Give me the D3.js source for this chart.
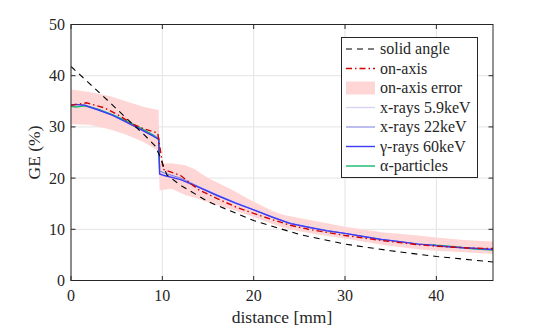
<!DOCTYPE html>
<html>
<head>
<meta charset="utf-8">
<script src="https://cdn.jsdelivr.net/npm/d3@7"></script>
<style>
  body { margin: 0; background: #fff; }
</style>
</head>
<body>
<svg id="chart" width="545" height="327" font-family="'Liberation Serif', 'Times New Roman', serif"></svg>
<script>
// tick values
var xTicks = [0, 10, 20, 30, 40];
var yTicks = [0, 10, 20, 30, 40, 50];

// solid angle (analytic curve)
var solidDist  = [0, 2, 4, 6, 8, 9.2, 9.7, 10.5, 12, 15, 20, 25, 30, 35, 40, 46.2];
var solidAngle = [41.8, 38.5, 35.2, 31.8, 28.5, 26.3, 24.4, 20.6, 18.6, 15.4, 11.7, 9.0, 7.1, 5.8, 4.7, 3.6];

// on-axis measurement + error band
var onAxisDist = [0, 1.7, 3.7, 5.4, 6.8, 8, 9.5, 10.1, 12, 14, 16, 18, 20, 22, 24, 26, 28, 30, 32, 34, 36, 38, 40, 42, 44, 46.2];
var onAxis     = [34.2, 34.7, 33.7, 32.1, 30.5, 29.6, 28.8, 21.7, 20.5, 17.7, 16.0, 14.4, 13.1, 11.9, 10.8, 10.0, 9.4, 8.8, 8.3, 7.8, 7.4, 7.0, 6.7, 6.5, 6.3, 6.25];

var errDist  = [0, 2, 4.3, 6, 8, 9.6, 9.7, 11, 12.5, 13.5, 15, 17.5, 20, 22, 23.3, 25, 27, 30, 34, 38, 40, 43, 46.2];
var errUpper = [37.3, 36.8, 36.0, 35.0, 33.9, 33.3, 22.8, 22.9, 22.5, 21.8, 20.0, 17.8, 15.4, 13.6, 12.8, 12.2, 11.5, 10.5, 9.4, 8.8, 8.4, 7.9, 7.6];
var errLower = [30.5, 30.4, 29.5, 28.5, 27.0, 25.3, 17.6, 17.9, 16.7, 16.2, 15.3, 13.9, 12.4, 11.1, 10.3, 9.6, 9.0, 8.2, 7.0, 6.1, 5.8, 5.5, 5.2];

// simulations
var simDist  = [0, 0.5, 1.5, 3, 4.5, 6, 7.5, 9, 9.6, 9.7, 10.2, 12, 14, 16, 18, 20, 22, 24, 26, 28, 30, 32, 34, 36, 38, 39.6, 40, 42, 44, 46.2];
var xray59   = [34.1, 34.3, 34.3, 33.5, 32.5, 31.3, 29.9, 28.5, 27.9, 21.2, 20.9, 20.0, 18.4, 16.8, 15.3, 13.9, 12.5, 11.3, 10.5, 9.8, 9.2, 8.6, 8.1, 7.6, 7.2, 6.9, 6.8, 6.5, 6.3, 6.1];
var xray22   = [34.2, 34.4, 34.3, 33.4, 32.4, 31.1, 29.7, 28.3, 27.8, 21.4, 21.0, 20.0, 18.3, 16.7, 15.2, 13.8, 12.4, 11.2, 10.4, 9.8, 9.2, 8.6, 8.0, 7.6, 7.1, 6.9, 6.8, 6.5, 6.3, 6.05];
var gamma60  = [34.3, 34.4, 34.2, 33.3, 32.3, 31.0, 29.6, 28.2, 27.6, 20.8, 20.5, 19.7, 18.2, 16.6, 15.1, 13.8, 12.4, 11.1, 10.4, 9.7, 9.2, 8.6, 8.0, 7.6, 7.1, 6.9, 6.8, 6.5, 6.3, 6.05];
var alphaP   = [34.0, 33.9, 34.1, 33.4, 32.4, 31.2, 29.9, 28.4, 27.5, 21.8, null, null, null, null, null, null, null, null, null, null, null, null, null, null, null, 7.0, 6.9, 6.6, 6.2, 5.95];

var legendLabels = ["solid angle", "on-axis", "on-axis error", "x-rays 5.9keV", "x-rays 22keV", "\u03b3-rays 60keV", "\u03b1-particles"];

var svg = d3.select("#chart");
var pL = 71, pR = 493, pT = 24.5, pB = 280.5;
var ink = "#262626";

var x = d3.scaleLinear().domain([0, 46.2]).range([pL, pR]);
var y = d3.scaleLinear().domain([0, 50]).range([pB, pT]);

svg.append("defs").append("clipPath").attr("id", "clip")
  .append("rect").attr("x", pL).attr("y", pT).attr("width", pR - pL).attr("height", pB - pT);

/* grid */
var grid = svg.append("g").attr("stroke", "#e3e3e3").attr("stroke-width", 1);
xTicks.forEach(function(t) {
  grid.append("line").attr("x1", x(t)).attr("x2", x(t)).attr("y1", pT).attr("y2", pB);
});
yTicks.forEach(function(t) {
  grid.append("line").attr("x1", pL).attr("x2", pR).attr("y1", y(t)).attr("y2", y(t));
});

var plot = svg.append("g").attr("clip-path", "url(#clip)");

/* error band */
var area = d3.area()
  .x(function(d, i) { return x(errDist[i]); })
  .y0(function(d, i) { return y(errLower[i]); })
  .y1(function(d, i) { return y(errUpper[i]); });
plot.append("path").datum(errUpper).attr("d", area).attr("fill", "#ffd6d6");

function lineOf(xs) {
  return d3.line()
    .defined(function(d) { return d != null; })
    .x(function(d, i) { return x(xs[i]); })
    .y(function(d) { return y(d); });
}

var series = [
  {vals: solidAngle, xs: solidDist, color: "#000", width: 1.1, dash: "6,5"},
  {vals: onAxis, xs: onAxisDist, color: "#d40000", width: 1.4, dash: "6,3,1.5,3"},
  null,
  {vals: xray59, xs: simDist, color: "#d2d2f7", width: 1.3},
  {vals: xray22, xs: simDist, color: "#7b7be0", width: 1},
  {vals: gamma60, xs: simDist, color: "#3c3cf5", width: 1.4},
  {vals: alphaP, xs: simDist, color: "#14b870", width: 1.4}
];

// simulations first, then measurement and solid angle on top
[3, 4, 6, 5, 1, 0].forEach(function(k) {
  var s = series[k];
  plot.append("path").datum(s.vals)
    .attr("d", lineOf(s.xs))
    .attr("fill", "none")
    .attr("stroke", s.color)
    .attr("stroke-width", s.width)
    .attr("stroke-dasharray", s.dash || null);
});

/* axes box + inward ticks */
var ax = svg.append("g").attr("stroke", ink).attr("stroke-width", 1);
ax.append("rect").attr("x", pL).attr("y", pT).attr("width", pR - pL).attr("height", pB - pT).attr("fill", "none");
var tl = 4.5;
xTicks.forEach(function(t) {
  ax.append("line").attr("x1", x(t)).attr("x2", x(t)).attr("y1", pB).attr("y2", pB - tl);
  ax.append("line").attr("x1", x(t)).attr("x2", x(t)).attr("y1", pT).attr("y2", pT + tl);
});
yTicks.forEach(function(t) {
  ax.append("line").attr("x1", pL).attr("x2", pL + tl).attr("y1", y(t)).attr("y2", y(t));
  ax.append("line").attr("x1", pR).attr("x2", pR - tl).attr("y1", y(t)).attr("y2", y(t));
});

svg.selectAll(".xt").data(xTicks).enter().append("text")
  .attr("x", function(d) { return x(d); }).attr("y", 301).attr("fill", ink)
  .attr("text-anchor", "middle").attr("font-size", 16).text(function(d) { return d; });
svg.selectAll(".yt").data(yTicks).enter().append("text")
  .attr("x", 65).attr("y", function(d) { return y(d) + 5.5; }).attr("fill", ink)
  .attr("text-anchor", "end").attr("font-size", 16).text(function(d) { return d; });

svg.append("text").attr("x", (pL + pR) / 2).attr("y", 323).attr("fill", ink)
  .attr("text-anchor", "middle").attr("font-size", 17.5).text("distance [mm]");
svg.append("text").attr("transform", "translate(40,152.5) rotate(-90)").attr("fill", ink)
  .attr("text-anchor", "middle").attr("font-size", 17.5).text("GE (%)");

/* legend */
var lg = svg.append("g");
lg.append("rect").attr("x", 341.5).attr("y", 37.5).attr("width", 136).attr("height", 140)
  .attr("fill", "#fff").attr("stroke", ink).attr("stroke-width", 1);
legendLabels.forEach(function(label, i) {
  var cy = 49 + i * 19.5;
  var s = series[i];
  if (s) {
    lg.append("line").attr("x1", 346).attr("x2", 375).attr("y1", cy).attr("y2", cy)
      .attr("stroke", s.color).attr("stroke-width", s.width).attr("stroke-dasharray", s.dash || null);
  } else {
    lg.append("rect").attr("x", 346).attr("y", cy - 6.5).attr("width", 29).attr("height", 13).attr("fill", "#ffd6d6");
  }
  lg.append("text").attr("x", 380).attr("y", cy + 5).attr("fill", ink).attr("font-size", 16).text(label);
});
</script>
</body>
</html>
